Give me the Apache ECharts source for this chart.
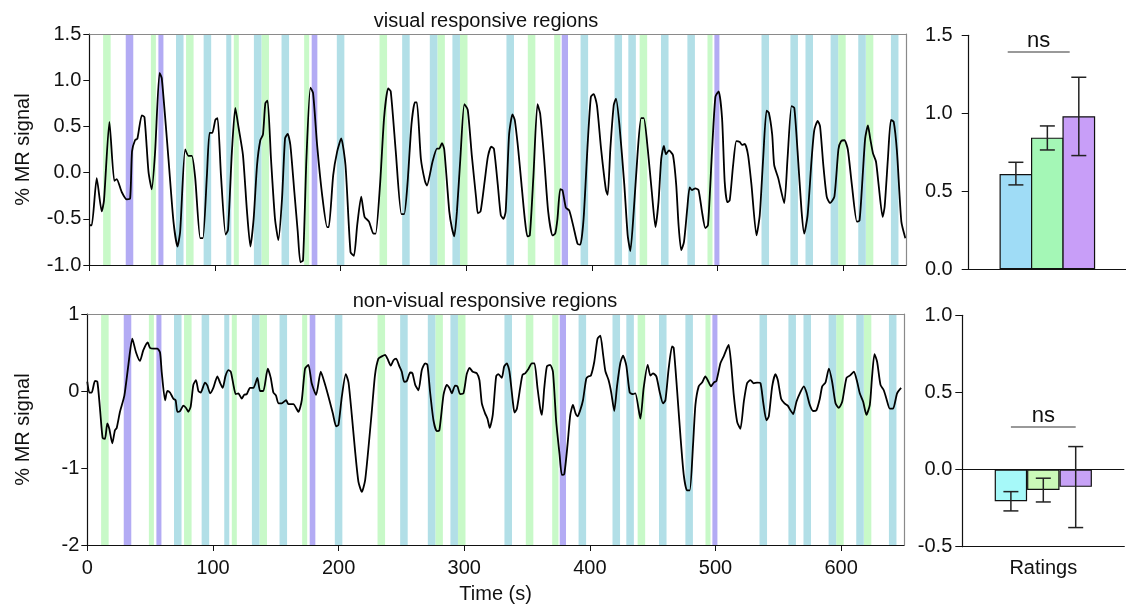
<!DOCTYPE html>
<html><head><meta charset="utf-8">
<script src="https://cdn.jsdelivr.net/npm/echarts@6/dist/echarts.min.js"></script>
<style>html,body{margin:0;padding:0;background:#fff}#c{width:1126px;height:605px}</style>
</head><body><div id="c"></div>
<script>
// ---------- DATA ----------
const xTicks = [0, 100, 200, 300, 400, 500, 600];
const greenBands = [[11,17],[49,53],[77,83],[115,119],[137,143],[171,175],[231,237],[277,283],[295,301],[349,355],[370,375],[438,444],[492,496],[596,602],[618,624]];
const blueBands = [[69,75],[91,97],[109,113],[131,137],[153,159],[197,203],[249,255],[271,277],[289,295],[332,338],[391,397],[418,424],[429,435],[455,461],[476,482],[535,541],[558,564],[570,576],[590,596],[612,618],[638,644]];
const purpleBands = [[29,35],[55,59],[177,181.5],[376,381],[497.5,501.5]];

const visualSignal = [[0,-0.57],[1.9,-0.57],[5.9,-0.06],[9.9,-0.42],[11.7,-0.30],[16,0.55],[19.9,-0.09],[21.8,-0.07],[25.8,-0.21],[29.8,-0.29],[32.5,-0.28],[34,0.23],[36.4,0.35],[38.3,0.37],[41.8,0.62],[43.9,0.6],[47.1,0.01],[49.7,-0.18],[52.4,0.23],[55.9,1.08],[57.7,1.02],[63,0.15],[67,-0.53],[70.2,-0.8],[72.3,-0.64],[76.3,0.25],[79,0.18],[81.6,0.18],[84.3,-0.06],[88.3,-0.71],[90.4,-0.71],[93.6,-0.03],[95.7,0.43],[97.9,0.43],[100.3,0.57],[102.1,0.59],[104.8,-0.03],[108.5,-0.67],[110.4,-0.62],[113.5,0.23],[116.2,0.7],[118.9,0.48],[122.3,0.19],[125.5,-0.42],[128.2,-0.8],[130.8,-0.5],[133.5,0.08],[136.1,0.35],[138.2,0.41],[140.1,0.75],[141.9,0.78],[144.6,0.15],[147.8,-0.5],[150.5,-0.73],[153.4,-0.28],[155.8,0.37],[157.9,0.42],[160,0.3],[163.2,-0.21],[165.9,-0.64],[168,-0.97],[170.1,-0.95],[172.8,0.15],[176,0.92],[178.1,0.86],[181.3,0.3],[185.3,-0.24],[189.3,-0.59],[190.6,-0.59],[194.1,-0.03],[197.3,0.23],[200.5,0.37],[203.9,0.08],[207.9,-0.86],[210.6,-0.9],[213.2,-0.57],[216.4,-0.26],[219.1,-0.48],[222.6,-0.53],[226.1,-0.66],[227.9,-0.66],[231.4,-0.13],[234.6,0.59],[237.8,0.91],[239.9,0.88],[243.9,0.23],[248.4,-0.45],[250.6,-0.45],[253.2,-0.13],[256.4,0.52],[259.1,0.76],[260.7,0.76],[263.9,0.15],[267.1,-0.09],[268.7,-0.14],[273.2,0.12],[276.7,0.26],[278.5,0.26],[280.7,0.32],[282.5,0.25],[286.5,-0.42],[288.6,-0.6],[290.5,-0.69],[292.6,-0.42],[295.3,0.15],[298.5,0.74],[301.2,0.68],[304.4,0.19],[307.9,-0.28],[309.2,-0.44],[311.4,-0.42],[314.6,-0.1],[317.2,0.17],[319.9,0.28],[322,0.26],[325.1,-0.13],[327.5,-0.46],[329.6,-0.5],[331.4,-0.42],[334.1,0.41],[336.8,0.63],[338.6,0.57],[341.3,0.26],[344,-0.13],[346.6,-0.5],[348.7,-0.69],[350.6,-0.68],[353.5,-0.03],[356.7,0.74],[358.8,0.64],[362,0.15],[365.2,-0.42],[368.7,-0.68],[370.8,-0.66],[372.6,-0.5],[374.8,-0.18],[376.6,-0.19],[379.3,-0.38],[382,-0.41],[385.4,-0.59],[388.6,-0.77],[390.8,-0.78],[393.4,-0.5],[396.6,0.3],[399.2,0.82],[401.4,0.85],[404,0.73],[407.3,0.26],[411.2,-0.19],[412.6,-0.24],[414.7,0.26],[417.4,0.73],[419.2,0.8],[421.9,0.52],[425.8,-0.13],[428.5,-0.68],[430.6,-0.85],[433.3,-0.42],[436.5,0.23],[439.2,0.59],[441.3,0.59],[444.5,0.25],[447.7,-0.21],[450.6,-0.59],[453,-0.32],[455.2,0.15],[457.3,0.29],[458.9,0.2],[461.3,0.24],[464.5,0.19],[467.1,-0.13],[469,-0.57],[471.1,-0.84],[473.3,-0.75],[475.9,-0.39],[477.8,-0.16],[479.6,-0.19],[482.3,-0.17],[484.9,-0.19],[487.6,-0.42],[490.3,-0.6],[492.4,-0.57],[495.6,0.23],[498.3,0.82],[500.9,0.88],[503.6,0.59],[505.7,-0.1],[507.8,-0.32],[509.7,-0.3],[512.4,0.08],[515,0.34],[517.7,0.33],[519.5,0.3],[521.7,0.31],[524.3,0.19],[527,-0.13],[531,-0.68],[533.6,-0.46],[536.3,0.15],[539,0.67],[540.8,0.65],[543.5,0.41],[545.1,0.08],[548.3,-0.06],[553.1,-0.33],[555.7,0.15],[558.9,0.72],[561.1,0.7],[563.7,0.23],[566.9,-0.42],[569,-0.66],[571.7,-0.46],[574.9,0.15],[577,0.46],[579.7,0.56],[581.6,0.5],[584.2,0.08],[586.9,-0.26],[589.5,-0.33],[593,-0.26],[596.2,0.25],[598.3,0.34],[601,0.35],[603.7,0.25],[606.9,-0.13],[610.9,-0.53],[613,-0.52],[615.4,-0.06],[617.5,0.37],[619.7,0.51],[621.5,0.37],[623.7,0.21],[626.1,0.12],[628.2,-0.13],[631.4,-0.48],[633,-0.37],[635.6,0.15],[638,0.57],[640.2,0.55],[642.8,0.23],[646.3,-0.53],[649.5,-0.71]];

const nonVisualSignal = [[0,0.12],[1.6,-0.02],[3.5,-0.02],[6.1,0.13],[8,0.12],[10.1,-0.23],[12.2,-0.61],[14.1,-0.62],[15.9,-0.42],[17.5,-0.49],[19.9,-0.68],[22,-0.51],[23.4,-0.48],[26,-0.27],[29.5,-0.06],[32.7,0.34],[35.8,0.68],[38.8,0.5],[41.9,0.39],[44.6,0.53],[48.1,0.63],[49.9,0.56],[53.1,0.55],[55.8,0.55],[57.9,0.5],[59.2,0.25],[61.9,-0.12],[63.7,0],[65.8,-0.02],[68.5,-0.1],[70.3,-0.12],[71.7,-0.27],[73.8,-0.26],[76.5,-0.19],[78.6,-0.22],[80.4,-0.27],[82.3,-0.2],[84.4,0.08],[86.5,0.14],[88.4,0],[90.3,-0.02],[93.7,0.11],[95.6,0.07],[97.7,-0.03],[100.3,0.04],[103.5,0.19],[105.6,0.11],[107.8,0.04],[109.9,0.19],[112.3,0.27],[114.2,0.25],[116.3,0.08],[118.1,-0.04],[120.2,-0.03],[122.9,-0.1],[124.8,-0.05],[126.9,-0.04],[129.5,0.04],[132.2,0.04],[135.4,0.17],[137.5,0],[140.1,0],[143.6,0.29],[146,0.17],[148.1,-0.02],[150.2,-0.06],[152.1,-0.16],[154.7,-0.16],[158.2,-0.12],[160.1,-0.17],[164,-0.17],[168,-0.27],[170.7,-0.12],[173.3,0.29],[176,0.34],[178.6,0.1],[182.1,-0.05],[185.8,0.25],[189.3,0.08],[192.7,-0.12],[195.4,-0.29],[198.1,-0.46],[199.9,-0.44],[202.6,-0.07],[205.7,0.22],[207.9,0.11],[210.5,-0.31],[213.2,-0.79],[215.8,-1.18],[218.5,-1.31],[221.1,-1.16],[223.7,-0.75],[226.4,-0.27],[229,0.21],[231.7,0.42],[234.4,0.45],[237,0.47],[238.9,0.42],[241.5,0.33],[243.7,0.4],[245.8,0.42],[248.4,0.32],[250.3,0.25],[252.2,0.12],[254.3,0.13],[257,0.24],[258.8,0.23],[261,0.08],[263.6,0.01],[266.2,0.27],[268.9,0.36],[270.7,0.34],[272.8,-0.01],[275.5,-0.38],[278.1,-0.52],[280.2,-0.51],[283.5,-0.05],[286.1,0.08],[288.2,0.04],[290.1,-0.03],[292.7,0.07],[294.6,0.06],[296.7,-0.04],[299.4,-0.03],[302,0.22],[304.2,0.3],[306.8,0.25],[310,0.23],[312.1,0.14],[314,-0.16],[316.6,-0.29],[318.5,-0.36],[320.3,-0.48],[322.7,-0.31],[325.4,0.19],[327.2,0.22],[329.9,0.17],[331.8,0.32],[333.9,0.36],[336,0.25],[338.7,-0.14],[340,-0.28],[341.9,-0.23],[344.5,0.04],[346.4,0.21],[348.5,0.23],[351.2,0.29],[353.8,0.36],[355.9,0.36],[358.3,0.04],[360.5,-0.23],[361.8,-0.31],[363.7,0.04],[365.8,0.32],[368.4,0.34],[370.6,0.25],[373.2,-0.4],[375.9,-0.83],[377.7,-1.09],[379.6,-1.08],[382.2,-0.7],[384.4,-0.31],[386.5,-0.18],[388.6,-0.29],[390.2,-0.33],[392.3,-0.25],[394.5,-0.12],[397.1,0.16],[399,0.19],[400.8,0.2],[403.5,0.38],[406.1,0.68],[408.3,0.72],[410.4,0.49],[412.3,0.26],[414.9,0.14],[417,-0.02],[419.4,-0.26],[421.6,0.06],[424.2,0.36],[426.4,0.46],[429,0.33],[431.7,-0.02],[434.3,-0.04],[436.2,-0.03],[440.2,-0.36],[442.8,0.04],[446,0.34],[448.1,0.2],[450.2,0.23],[452.9,0.19],[455.5,-0.01],[458.2,-0.16],[460.1,-0.12],[462.7,0.29],[465.4,0.58],[466.7,0.56],[469.4,0.01],[472,-0.57],[474.7,-1.09],[477.3,-1.29],[479.5,-1.29],[482.1,-0.7],[484,-0.18],[486.6,0.06],[489.3,0.11],[491.9,0.19],[493.8,0.14],[496.4,0.06],[498.6,0.11],[500.7,0.13],[503.9,0.36],[506.5,0.45],[509.2,0.56],[510.5,0.6],[512.4,0.36],[514.5,-0.05],[517.2,-0.4],[519.8,-0.49],[522.5,-0.14],[525.1,0.1],[527.8,0.14],[530.4,0.1],[533.1,0.11],[535.8,0.1],[537.9,-0.14],[540.5,-0.38],[542.4,-0.33],[545.1,0.06],[547.7,0.22],[549.6,0.14],[552.2,-0.1],[554.9,-0.16],[557.5,-0.19],[559.6,-0.25],[561.8,-0.3],[564.4,-0.14],[567.1,-0.03],[570.3,0.06],[572.4,-0.02],[575,-0.18],[577.7,-0.26],[580.3,-0.25],[583,-0.1],[584.9,0.06],[587.5,0.11],[590.2,0.29],[592.8,0.12],[595.5,-0.16],[598.1,-0.22],[600.8,-0.14],[604.2,0.17],[606.9,0.2],[610.1,0.25],[612.7,0.12],[614.8,-0.03],[617.5,-0.14],[620.1,-0.31],[622.8,-0.18],[624.6,0.19],[626.5,0.48],[628.6,0.38],[631.3,0.08],[633.9,0.01],[636,-0.1],[638.7,-0.23],[641.3,-0.23],[644.5,-0.03],[647.7,0.04]];

const conditions = ['cond1', 'cond2', 'cond3'];
const visualMean = [0.611, 0.844, 0.981];
const visualLow  = [0.541, 0.765, 0.729];
const visualHigh = [0.686, 0.919, 1.231];
const nonVisualMean = [-0.205, -0.132, -0.112];
const nonVisualLow  = [-0.268, -0.210, -0.376];
const nonVisualHigh = [-0.143, -0.056, 0.149];
const visualBarColors = ['#9fdcf6', '#a4f7b6', '#c89ef8'];
const nonVisualBarColors = ['#a6f9f9', '#cbf9b8', '#c7a2f6'];

// ---------- CHART ----------
const FONT = 'Liberation Sans, Arial, sans-serif';
const TXT = '#111';
const chart = echarts.init(document.getElementById('c'));

function bandSeries(bands, color, gi) {
  return { type: 'line', xAxisIndex: gi, yAxisIndex: gi, data: [], silent: true, z: 1,
    markArea: { silent: true, itemStyle: { color: color, opacity: 1 },
      data: bands.map(b => [{ xAxis: b[0] }, { xAxis: b[1] }]) } };
}
function signalSeries(data, gi) {
  return { type: 'line', xAxisIndex: gi, yAxisIndex: gi, data: data, symbol: 'none',
    smooth: 0.2, lineStyle: { color: '#000', width: 1.8 }, z: 5, silent: true };
}
function barSeries(means, colors, gi, barW, extraLines) {
  return { type: 'bar', xAxisIndex: gi, yAxisIndex: gi, barWidth: barW, z: 4, silent: true,
    data: means.map((m, i) => ({ name: conditions[i], value: [i + 1.5, m], itemStyle: { color: colors[i] } })),
    itemStyle: { borderColor: '#111', borderWidth: 1.2 },
    markLine: { silent: true, symbol: 'none', data: extraLines } };
}
function errorSeries(lows, highs, gi) {
  return { type: 'custom', xAxisIndex: gi, yAxisIndex: gi, z: 6, silent: true,
    data: lows.map((l, i) => [i + 1.5, l, highs[i]]),
    encode: { x: 0, y: [1, 2] },
    renderItem: function (params, api) {
      const x = api.value(0);
      const lo = api.coord([x, api.value(1)]);
      const hi = api.coord([x, api.value(2)]);
      const st = { stroke: '#222', lineWidth: 1.5 };
      return { type: 'group', children: [
        { type: 'line', shape: { x1: lo[0], y1: lo[1], x2: hi[0], y2: hi[1] }, style: st },
        { type: 'line', shape: { x1: lo[0] - 7.5, y1: lo[1], x2: lo[0] + 7.5, y2: lo[1] }, style: st },
        { type: 'line', shape: { x1: hi[0] - 7.5, y1: hi[1], x2: hi[0] + 7.5, y2: hi[1] }, style: st }
      ] };
    } };
}
function nsLine(x1, x2, y) {
  return [{ coord: [x1, y], lineStyle: { color: '#777', width: 1.5, type: 'solid' },
            label: { show: true, formatter: 'ns', position: 'insideMiddleTop', distance: 0,
                     fontSize: 22, fontFamily: FONT, color: TXT } },
          { coord: [x2, y] }];
}

const axisLineBlack = { show: true, onZero: false, lineStyle: { color: '#111', width: 1.2 } };
const labelStyle = { fontSize: 20, fontFamily: FONT, color: TXT };

function timeXAxis(gi, showLabels) {
  return { type: 'value', gridIndex: gi, min: 0, max: 650, z: 10,
    axisLine: axisLineBlack, splitLine: { show: false },
    axisTick: { show: true, inside: false, length: 6, lineStyle: { color: '#111' },
      customValues: xTicks },
    axisLabel: Object.assign({ show: showLabels, margin: 13, customValues: xTicks }, labelStyle),
    name: showLabels ? 'Time (s)' : '', nameLocation: 'middle', nameGap: 39,
    nameTextStyle: labelStyle };
}
function borderXAxis(gi) {
  return { type: 'value', gridIndex: gi, position: 'top', min: 0, max: 650, z: 10,
    axisLine: { show: true, onZero: false, lineStyle: { color: '#8a8a8a', width: 1.2 } },
    axisTick: { show: false }, axisLabel: { show: false }, splitLine: { show: false } };
}
function borderYAxis(gi, mn, mx) {
  return { type: 'value', gridIndex: gi, position: 'right', min: mn, max: mx, z: 10,
    axisLine: { show: true, onZero: false, lineStyle: { color: '#8a8a8a', width: 1.2 } },
    axisTick: { show: false }, axisLabel: { show: false }, splitLine: { show: false } };
}
function signalYAxis(gi, mn, mx, itv, dec, gap) {
  return { type: 'value', gridIndex: gi, min: mn, max: mx, interval: itv, z: 10,
    axisLine: axisLineBlack, splitLine: { show: false },
    axisTick: { show: true, length: 6, lineStyle: { color: '#111' } },
    axisLabel: Object.assign({ margin: 8, formatter: v => v.toFixed(dec) }, labelStyle),
    name: '% MR signal', nameLocation: 'middle', nameRotate: 90, nameGap: gap,
    nameTextStyle: labelStyle };
}
function barXAxis(gi, name) {
  return { type: 'value', gridIndex: gi, min: 0, max: 5, z: 10,
    axisLine: axisLineBlack, axisTick: { show: false }, axisLabel: { show: false },
    splitLine: { show: false }, name: name, nameLocation: 'middle', nameGap: 12,
    nameTextStyle: labelStyle };
}
function barYAxis(gi, mn, mx, margin) {
  return { type: 'value', gridIndex: gi, min: mn, max: mx, interval: 0.5, z: 10,
    axisLine: axisLineBlack, splitLine: { show: false },
    axisTick: { show: true, length: 7, lineStyle: { color: '#111' } },
    axisLabel: Object.assign({ margin: margin, formatter: v => v.toFixed(1) }, labelStyle) };
}

const option = {
  backgroundColor: '#fff',
  animation: false,
  title: [
    { text: 'visual responsive regions', left: 481, top: 6, textAlign: 'center',
      textStyle: { fontSize: 20, fontWeight: 'normal', fontFamily: FONT, color: TXT } },
    { text: 'non-visual responsive regions', left: 480, top: 286, textAlign: 'center',
      textStyle: { fontSize: 20, fontWeight: 'normal', fontFamily: FONT, color: TXT } }
  ],
  grid: [
    { left: 89.3, top: 34, width: 816.7, height: 231 },
    { left: 87.3, top: 314, width: 816.7, height: 231 },
    { left: 968.7, top: 35.3, width: 163.8, height: 234 },
    { left: 962.3, top: 315.3, width: 162, height: 231.4 }
  ],
  xAxis: [
    timeXAxis(0, false), timeXAxis(1, true), barXAxis(2, ''), barXAxis(3, 'Ratings'),
    borderXAxis(0), borderXAxis(1)
  ],
  yAxis: [
    signalYAxis(0, -1, 1.5, 0.5, 1, 56), signalYAxis(1, -2, 1, 1, 0, 54),
    barYAxis(2, 0, 1.5, 16), barYAxis(3, -0.5, 1, 10),
    borderYAxis(0, -1, 1.5), borderYAxis(1, -2, 1)
  ],
  series: [
    bandSeries(greenBands, '#c8f9c8', 0), bandSeries(blueBands, '#b2dfe7', 0), bandSeries(purpleBands, '#b3abf4', 0),
    bandSeries(greenBands, '#c8f9c8', 1), bandSeries(blueBands, '#b2dfe7', 1), bandSeries(purpleBands, '#b3abf4', 1),
    signalSeries(visualSignal, 0),
    signalSeries(nonVisualSignal, 1),
    barSeries(visualMean, visualBarColors, 2, 32.7, [nsLine(1.24, 3.21, 1.393)]),
    errorSeries(visualLow, visualHigh, 2),
    barSeries(nonVisualMean, nonVisualBarColors, 3, 32.4, [
      { yAxis: 0, lineStyle: { color: '#111', width: 1.2, type: 'solid' }, label: { show: false } },
      nsLine(1.5, 3.5, 0.277)]),
    errorSeries(nonVisualLow, nonVisualHigh, 3)
  ]
};
chart.setOption(option);
</script></body></html>
